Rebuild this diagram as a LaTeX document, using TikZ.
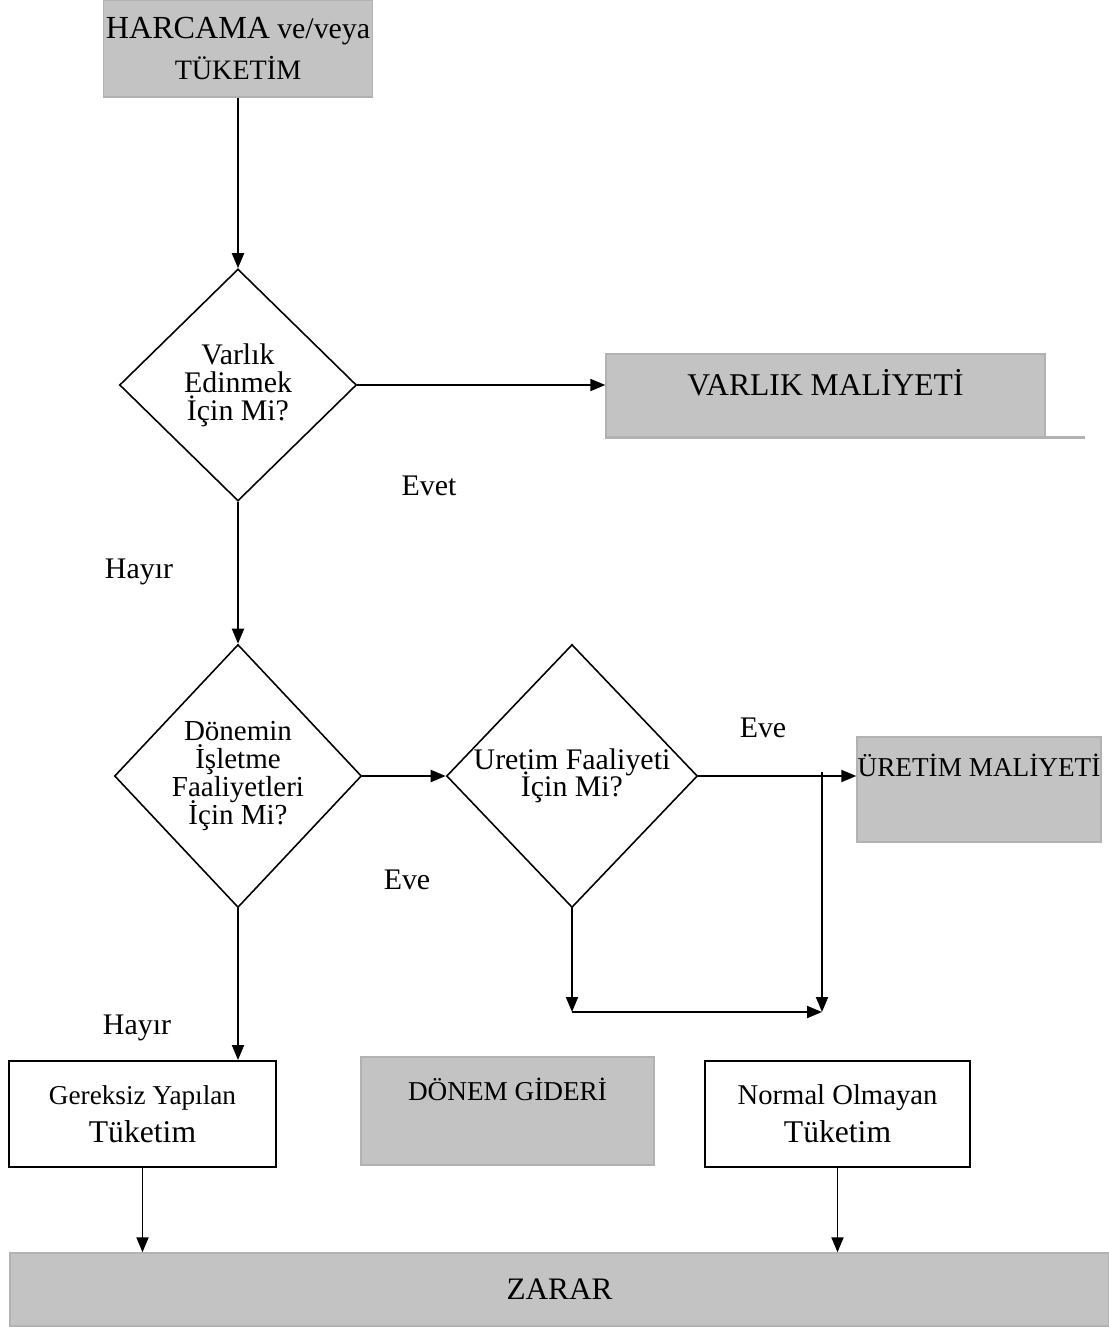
\documentclass[tikz,border=0pt]{standalone}
\usepackage{fontspec}
\setmainfont{Liberation Serif}
\usetikzlibrary{shapes.geometric,arrows.meta}

\definecolor{boxgray}{RGB}{195,195,195}
\definecolor{edgegray}{RGB}{178,178,178}

\newcommand{\tightlines}{\lineskiplimit -20pt\relax}

\tikzset{
    graybox/.style={fill=boxgray, draw=edgegray, line width=0.8pt, inner sep=0pt},
    whitebox/.style={draw, line width=1.1pt, inner sep=0pt, align=center},
    decision/.style={draw, diamond, line width=0.9pt, inner sep=0pt, align=center},
    flow/.style={line width=1.1pt, -{Triangle[length=0.3cm,width=0.24cm]}},
    answer/.style={font=\fontsize{17}{17}\selectfont}
}

\begin{document}
\begin{tikzpicture}

    \useasboundingbox (0,0) rectangle (22.18,-26.54);

    % Start box
    \node[graybox,
        align=center,
        minimum width=5.38cm,
        minimum height=1.94cm,
        font=\fontsize{16}{23}\selectfont] (harcama) at (4.76,-0.97)
        {{\fontsize{18.3}{23}\selectfont HARCAMA} {\fontsize{17}{23}\selectfont ve/veya}\\TÜKETİM};

    % First question
    \node[decision,
        minimum width=4.74cm,
        minimum height=4.64cm,
        font=\fontsize{17}{16}\selectfont\tightlines] (varlik_q) at (4.76,-7.70)
        {Varlık\\Edinmek\\İçin Mi?};

    \node[graybox,
        minimum width=8.78cm,
        minimum height=1.66cm,
        text height=0.45cm,
        text depth=0.45cm,
        font=\fontsize{18}{18}\selectfont] (varlik_cost) at (16.51,-7.91) {VARLIK MALİYETİ};
    \draw[edgegray, line width=1.5pt] (varlik_cost.south west) -- ++(9.6,0);

    % Second and third question
    \node[decision,
        minimum width=4.94cm,
        minimum height=5.26cm,
        font=\fontsize{16.5}{16}\selectfont\tightlines] (donem_q) at (4.76,-15.52)
        {Dönemin\\İşletme\\Faaliyetleri\\İçin Mi?};

    \node[decision,
        minimum width=5.0cm,
        minimum height=5.26cm,
        font=\fontsize{17}{15.5}\selectfont\tightlines] (uretim_q) at (11.44,-15.52)
        {Uretim Faaliyeti\\İçin Mi?};

    \node[graybox,
        minimum width=4.88cm,
        minimum height=2.10cm,
        text height=0.45cm,
        text depth=0.97cm,
        font=\fontsize{15.5}{15.5}\selectfont] (uretim_cost) at (19.58,-15.79) {ÜRETİM MALİYETİ};

    % Bottom row
    \node[whitebox,
        minimum width=5.34cm,
        minimum height=2.12cm,
        font=\fontsize{18}{21.5}\selectfont] (gereksiz) at (2.85,-22.28)
        {{\fontsize{15.5}{21.5}\selectfont Gereksiz Yapılan}\\Tüketim};

    \node[graybox,
        minimum width=5.86cm,
        minimum height=2.16cm,
        text height=0.45cm,
        text depth=0.89cm,
        font=\fontsize{15.5}{15.5}\selectfont] (donem_cost) at (10.15,-22.22) {DÖNEM GİDERİ};

    \node[whitebox,
        minimum width=5.3cm,
        minimum height=2.12cm,
        font=\fontsize{18}{21.5}\selectfont] (normal) at (16.75,-22.28)
        {{\fontsize{16.3}{21.5}\selectfont Normal Olmayan}\\Tüketim};

    \node[graybox,
        minimum width=21.98cm,
        minimum height=1.46cm,
        font=\fontsize{17.8}{17.8}\selectfont] (zarar) at (11.19,-25.79) {ZARAR};

    % Answers
    \node[answer] (evet_lbl) at (8.58,-9.72) {Evet};
    \node[answer] (hayir_lbl) at (2.78,-11.44) {Hayır};
    \node[answer] (eve_lbl) at (15.26,-14.56) {Eve};
    \node[answer] (eve_lbl2) at (8.14,-17.60) {Eve};
    \node[answer] (hayir_lbl2) at (2.74,-20.56) {Hayır};

    % Arrows
    \draw[flow] (harcama.south) -- (varlik_q.north);
    \draw[flow] (varlik_q.east) -- (varlik_q.east -| varlik_cost.west);
    \draw[flow] (varlik_q.south) -- (donem_q.north);
    \draw[flow] (donem_q.east) -- (uretim_q.west);
    \draw[flow] (uretim_q.east) -- (uretim_q.east -| uretim_cost.west);
    \draw[flow] (donem_q.south) -- (donem_q.south |- gereksiz.north);
    \draw[flow] (gereksiz.south) -- (gereksiz.south |- zarar.north);
    \draw[flow] (normal.south) -- (normal.south |- zarar.north);

    % Join under the third question
    \coordinate (join_top) at (16.44,-15.44);
    \coordinate (join_end) at (16.44,-20.24);
    \coordinate (join_corner) at (uretim_q.south |- join_end);
    \draw[flow] (uretim_q.south) -- (join_corner);
    \draw[flow] (join_corner) -- (join_end);
    \draw[flow] (join_top) -- (join_end);

\end{tikzpicture}
\end{document}
